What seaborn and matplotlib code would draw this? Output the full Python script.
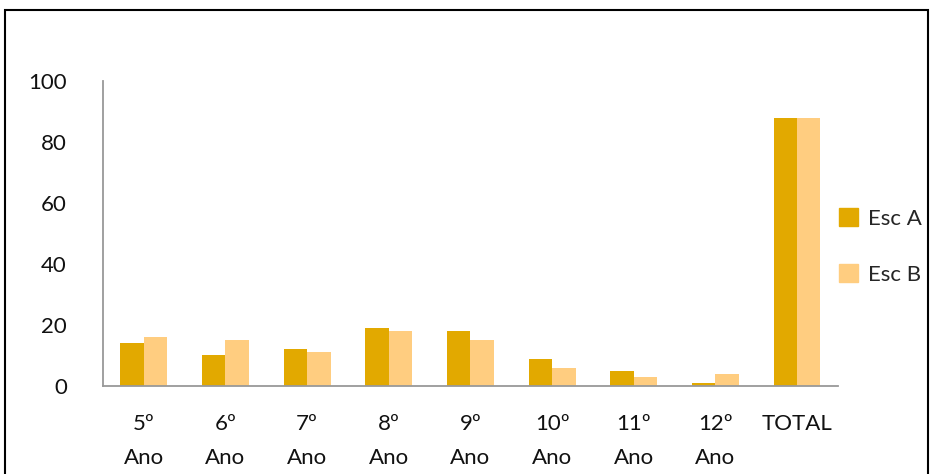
import pandas as pd
import matplotlib
matplotlib.use("Agg")
import matplotlib.pyplot as plt
import seaborn as sns
from matplotlib.patches import Rectangle

categories = ["5º\nAno", "6º\nAno", "7º\nAno", "8º\nAno", "9º\nAno",
              "10º\nAno", "11º\nAno", "12º\nAno", "TOTAL"]
esc_a = [14, 10, 12, 19, 18, 9, 5, 1, 88]
esc_b = [16, 15, 11, 18, 15, 6, 3, 4, 88]
series = ["Esc A", "Esc B"]
colors = ["#E2A900", "#FFCD80"]

df = pd.DataFrame({
    "cat": categories * 2,
    "valor": esc_a + esc_b,
    "serie": [series[0]] * len(categories) + [series[1]] * len(categories),
})

sns.set_style("white")
plt.rcParams["font.family"] = ["Lato", "DejaVu Sans"]

fig = plt.figure(figsize=(9.33, 4.74), dpi=100)
ax = fig.add_axes([0.1104, 0.1857, 0.7876, 0.6433])

sns.barplot(data=df, x="cat", y="valor", hue="serie", order=categories,
            hue_order=series, palette=colors, width=0.575, saturation=1,
            linewidth=0, ax=ax, legend=False)

ax.set_xlim(-0.5, len(categories) - 0.5)
ax.set_ylim(0, 100)
ax.set_yticks(range(0, 101, 20))
ax.set_xlabel("")
ax.set_ylabel("")
for s in ["top", "right"]:
    ax.spines[s].set_visible(False)
for s in ["left", "bottom"]:
    ax.spines[s].set_color("#999999")
    ax.spines[s].set_linewidth(1.3)
ax.tick_params(axis="y", length=0, pad=26, labelsize=16, labelcolor="#111111")
ax.tick_params(axis="x", length=0, pad=20, labelsize=16, labelcolor="#111111")
for lbl in ax.get_xticklabels():
    lbl.set_linespacing(1.9)
    lbl.set_verticalalignment("top")

handles = [Rectangle((0, 0), 1, 1, color=c) for c in colors]
fig.legend(handles, series, loc="center left", bbox_to_anchor=(0.89, 0.48),
           frameon=False, fontsize=16, handlelength=0.85, handleheight=0.85,
           handletextpad=0.45, labelspacing=1.6, borderaxespad=0)

# outer frame
fig.patches.append(Rectangle((0.005, -0.05), 0.99, 1.028, transform=fig.transFigure,
                             fill=False, edgecolor="black", linewidth=1.5))

fig.savefig("out.png", dpi=100)
